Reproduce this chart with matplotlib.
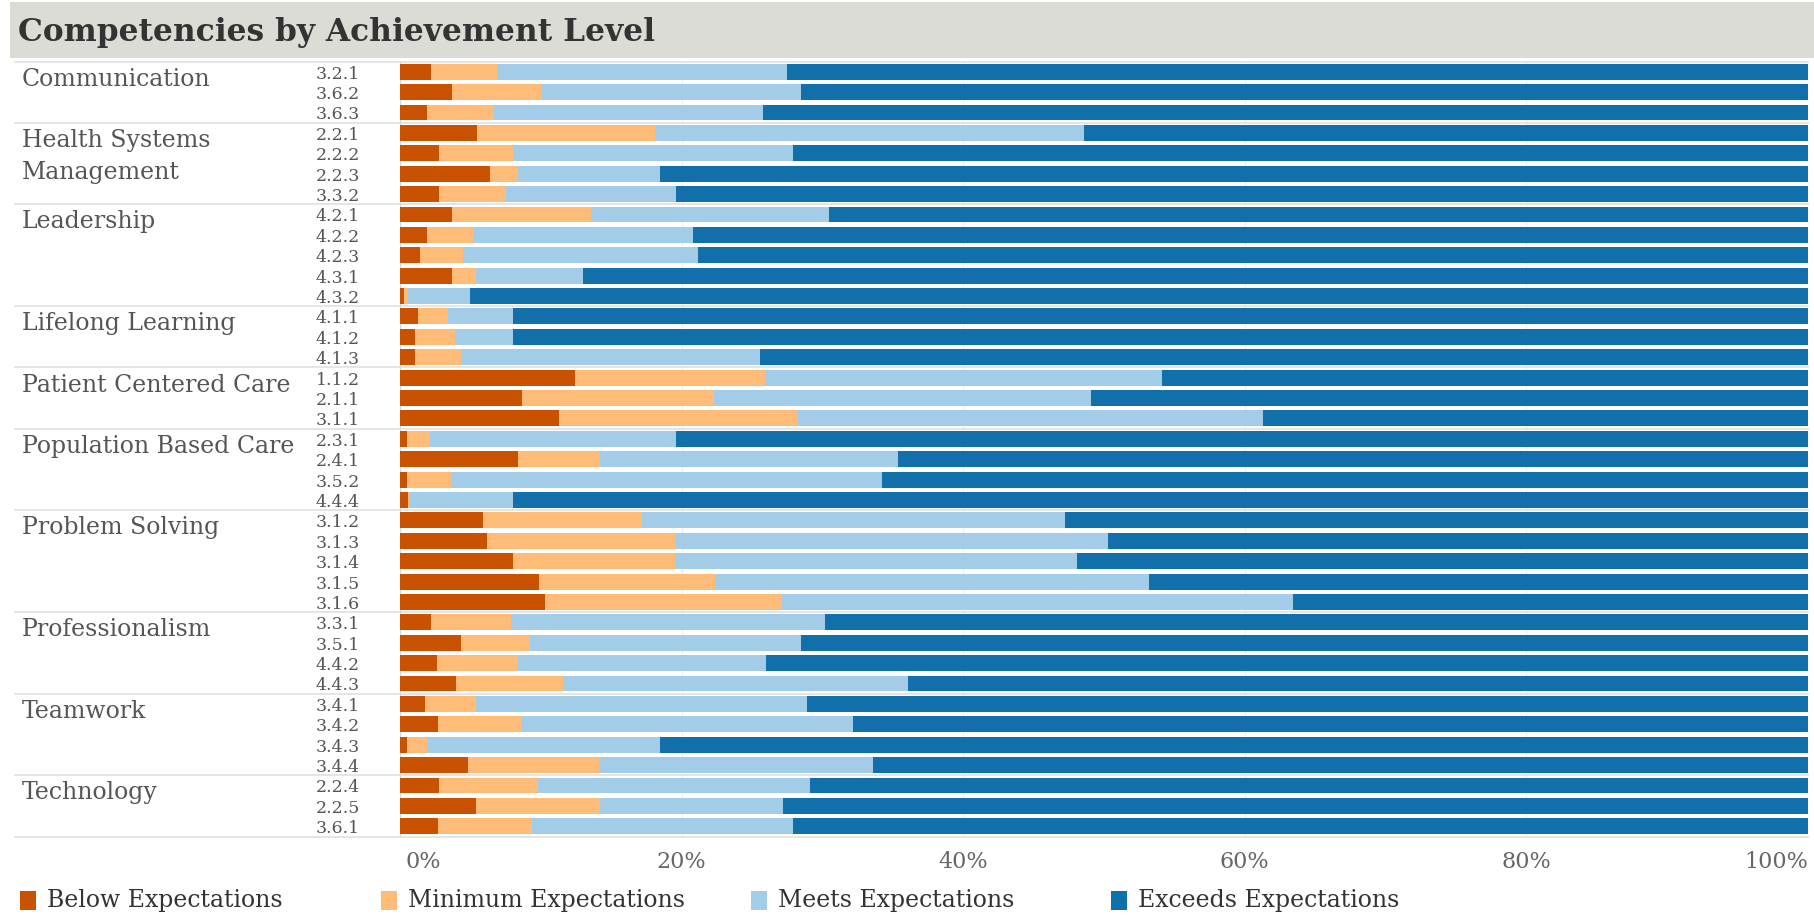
import matplotlib
matplotlib.use("Agg")
import matplotlib.pyplot as plt
from matplotlib.patches import Rectangle
from matplotlib.transforms import blended_transform_factory
import numpy as np

plt.rcParams['font.family'] = ['DejaVu Serif']

groups = ["Communication", "Health Systems\nManagement", "Leadership", "Lifelong Learning",
          "Patient Centered Care", "Population Based Care", "Problem Solving",
          "Professionalism", "Teamwork", "Technology"]
group_codes = [
    ["3.2.1", "3.6.2", "3.6.3"],
    ["2.2.1", "2.2.2", "2.2.3", "3.3.2"],
    ["4.2.1", "4.2.2", "4.2.3", "4.3.1", "4.3.2"],
    ["4.1.1", "4.1.2", "4.1.3"],
    ["1.1.2", "2.1.1", "3.1.1"],
    ["2.3.1", "2.4.1", "3.5.2", "4.4.4"],
    ["3.1.2", "3.1.3", "3.1.4", "3.1.5", "3.1.6"],
    ["3.3.1", "3.5.1", "4.4.2", "4.4.3"],
    ["3.4.1", "3.4.2", "3.4.3", "3.4.4"],
    ["2.2.4", "2.2.5", "3.6.1"],
]

below = [2.2, 3.7, 1.9,
         5.5, 2.8, 6.4, 2.8,
         3.7, 1.9, 1.4, 3.7, 0.3,
         1.3, 1.1, 1.1,
         12.4, 8.7, 11.3,
         0.5, 8.4, 0.5, 0.55,
         5.9, 6.2, 8.0, 9.9, 10.3,
         2.2, 4.3, 2.6, 4.0,
         1.8, 2.7, 0.5, 4.8,
         2.8, 5.4, 2.7]
minimum = [4.7, 6.3, 4.8,
           12.6, 5.2, 2.0, 4.7,
           9.9, 3.3, 3.1, 1.7, 0.3,
           2.1, 2.8, 3.2,
           13.5, 13.6, 16.9,
           1.6, 5.8, 3.1, 0.1,
           11.3, 13.3, 11.5, 12.5, 16.8,
           5.7, 4.9, 5.8, 7.6,
           3.6, 5.9, 1.4, 9.3,
           7.0, 8.8, 6.7]
meets = [20.6, 18.5, 19.1,
         30.5, 19.9, 10.1, 12.1,
         16.9, 15.6, 16.7, 7.6, 4.4,
         4.6, 4.1, 21.3,
         28.2, 26.8, 33.1,
         17.5, 21.2, 30.6, 7.35,
         30.0, 30.8, 28.6, 30.8, 36.3,
         22.3, 19.3, 17.6, 24.5,
         23.5, 23.6, 16.6, 19.5,
         19.3, 13.0, 18.5]
exceeds = [72.5, 71.5, 74.2,
           51.4, 72.1, 81.5, 80.4,
           69.5, 79.2, 78.8, 87.0, 95.0,
           92.0, 92.0, 74.4,
           45.9, 50.9, 38.7,
           80.4, 64.6, 65.8, 92.0,
           52.8, 49.7, 51.9, 46.8, 36.6,
           69.8, 71.5, 74.0, 63.9,
           71.1, 67.8, 81.5, 66.4,
           70.9, 72.8, 72.1]

series_names = ["Below Expectations", "Minimum Expectations", "Meets Expectations", "Exceeds Expectations"]
colors = ["#c85200", "#ffbc79", "#a3cce9", "#1170aa"]

W, H = 1814, 919
fig = plt.figure(figsize=(W / 100, H / 100), dpi=100)

# title band
fig.patches.append(Rectangle((10 / W, 1 - 58 / H), 1 - 10 / W, 56 / H, transform=fig.transFigure,
                             facecolor="#dcdcd6", edgecolor="none", zorder=0))
fig.text(18 / W, 1 - 33 / H, "Competencies by Achievement Level", fontsize=22.5, fontweight="bold",
         color="#333333", va="center", ha="left")

x0, x1 = 400, 1808
ytop, ybot = 61.5, 836.5
ax = fig.add_axes([x0 / W, 1 - ybot / H, (x1 - x0) / W, (ybot - ytop) / H])

codes = [c for g in group_codes for c in g]
n = len(codes)
ypos = np.arange(n)
data = [below, minimum, meets, exceeds]
left = np.zeros(n)
for vals, col, name in zip(data, colors, series_names):
    vals = np.array(vals, dtype=float)
    ax.barh(ypos, vals, left=left, height=0.78, color=col, edgecolor="none", label=name, zorder=2)
    left += vals

ax.set_xlim(0, 100)
ax.set_ylim(n - 0.5, -0.5)
for s in ax.spines.values():
    s.set_visible(False)
ax.set_yticks([])
ticks = [0, 20, 40, 60, 80, 100]
ax.set_xticks(ticks)
ax.tick_params(axis="x", length=0, labelbottom=False)
for t in ticks[1:]:
    ax.axvline(t, color="#f0f0f0", lw=1, zorder=0)
ax.axvline(0, color="#d9d9d9", lw=1, zorder=1)

tr = blended_transform_factory(ax.transData, fig.transFigure)
for t in ticks:
    ha = "center"
    xx = t
    if t == 0:
        ha = "left"; xx = 0.4
    elif t == 100:
        ha = "right"
    ax.text(xx, 1 - 862 / H, f"{t}%", transform=tr, ha=ha, va="center", fontsize=16, color="#666666")

bt = blended_transform_factory(ax.transAxes, ax.transData)
ax_w = x1 - x0
def axfrac(px):
    return (px - x0) / ax_w

i = 0
for g, cs in zip(groups, group_codes):
    ax.plot([axfrac(15), 1.0], [i - 0.5, i - 0.5], transform=bt, color="#e0e0e0", lw=1.2,
            clip_on=False, zorder=3)
    ax.text(axfrac(22), i - 0.2, g, transform=bt, ha="left", va="top", fontsize=17,
            color="#555555", linespacing=1.5)
    for c in cs:
        ax.text(axfrac(316), i + 0.12, c, transform=bt, ha="left", va="center", fontsize=12.5,
                color="#555555")
        i += 1
ax.plot([axfrac(15), 1.0], [n - 0.5, n - 0.5], transform=bt, color="#e0e0e0", lw=1.2,
        clip_on=False, zorder=3)

# legend
leg_x = [20, 381, 751, 1111]
for xx, col, name in zip(leg_x, colors, series_names):
    fig.patches.append(Rectangle((xx / W, 1 - 910 / H), 16 / W, 19 / H, transform=fig.transFigure,
                                 facecolor=col, edgecolor="none"))
    fig.text((xx + 27) / W, 1 - 900 / H, name, fontsize=17, color="#333333", va="center", ha="left")

fig.savefig("out.png", dpi=100, facecolor="white")
